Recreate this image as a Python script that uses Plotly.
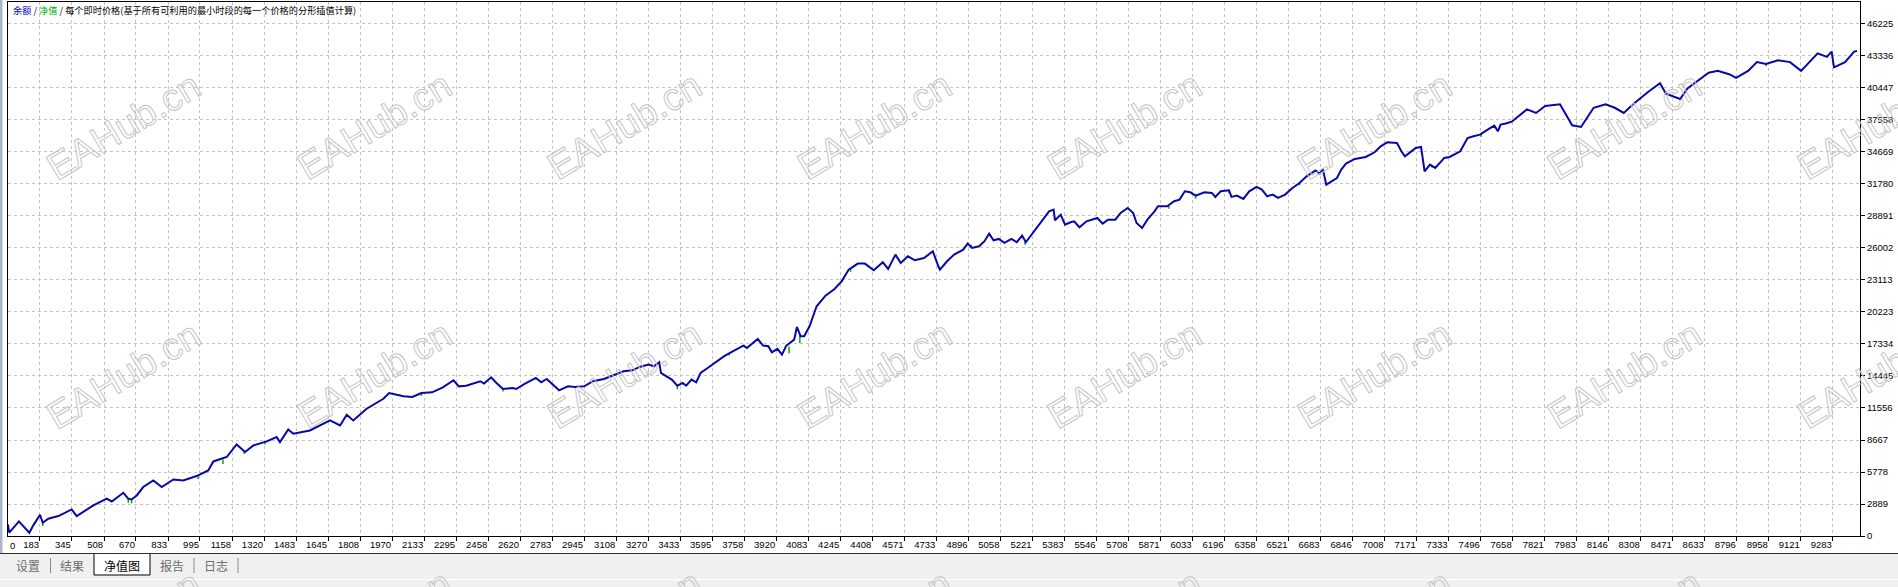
import plotly.graph_objects as go

# balance curve (trade number, balance)
trade_idx = [
    20, 27, 76, 107, 129, 149, 183, 197, 225, 276, 344, 369, 454, 522, 547, 606,
    631, 648, 674, 707, 758, 801, 860, 910, 978, 1037, 1063, 1131, 1181, 1224,
    1266, 1334, 1384, 1401, 1443, 1469, 1553, 1655, 1706, 1740, 1773, 1841, 1926,
    1955, 2028, 2073, 2119, 2173, 2228, 2282, 2309, 2346, 2391, 2418, 2437, 2473,
    2500, 2533, 2582, 2600, 2645, 2700, 2727, 2755, 2818, 2863, 2900, 2945, 2990,
    3045, 3081, 3145, 3190, 3226, 3272, 3299, 3326, 3335, 3363, 3390, 3418, 3445,
    3463, 3490, 3514, 3536, 3572, 3608, 3654, 3690, 3753, 3771, 3826, 3853, 3880,
    3898, 3926, 3949, 3971, 3989, 4011, 4025, 4044, 4062, 4089, 4125, 4170, 4216,
    4252, 4288, 4334, 4370, 4415, 4461, 4488, 4525, 4552, 4588, 4624, 4670, 4715,
    4743,
    4751, 4787, 4823, 4869, 4892, 4914, 4950, 4977, 5001, 5023, 5050, 5078, 5114,
    5141, 5168, 5187, 5223, 5268, 5305, 5328, 5335, 5364, 5386, 5414, 5432, 5459,
    5495, 5550, 5577, 5604, 5641, 5668, 5704, 5732, 5749, 5777, 5804, 5840, 5858,
    5904, 5940, 5967, 5994, 6022, 6049, 6094, 6131, 6149, 6176, 6218, 6231, 6258,
    6291, 6321, 6358, 6385, 6412, 6440, 6467, 6503, 6540, 6576, 6612, 6657, 6679,
    6694, 6712, 6739, 6766, 6788, 6812, 6857, 6912, 6957, 6988, 7021, 7071, 7093,
    7111, 7129, 7166, 7193, 7206, 7211, 7238, 7265, 7311, 7338, 7392, 7429, 7459,
    7492, 7537, 7565, 7583, 7597,
    7623, 7653, 7730, 7777, 7823, 7898, 7929, 7960, 8005, 8069, 8130, 8176, 8222,
    8269, 8345, 8406, 8436, 8508, 8545, 8653, 8699, 8760, 8792, 8853, 8898, 8944,
    9005, 9066, 9122, 9206, 9253, 9277, 9289, 9345, 9391, 9406,
]
balance = [
    1050, 300, 1320, 750, 300, 960, 1920, 1200, 1560, 1800, 2400, 1800, 2760, 3370, 3120, 3900,
    3370, 3300, 3660, 4420, 5020, 4420, 5100, 5020, 5410, 5920, 6730, 7130, 8260, 7580,
    8170, 8540, 8930, 8480, 9620, 9230, 9530, 10430, 9980, 10940, 10430, 11490, 12390,
    12910, 12610, 12550, 12910, 12970, 13420, 14060, 13510, 13570, 13820, 13970, 13760, 14330,
    13820, 13270, 13360, 13270, 13760, 14270, 13880, 14180, 13150, 13510, 13450, 13510, 13970,
    14180, 14420, 14870, 14960, 15260, 15470, 15320, 15680, 14720, 14420, 14120, 13570, 13820,
    13570, 14120, 13880, 14720, 15170, 15620, 16220, 16580, 17190, 16980, 17790, 17190, 17130,
    16580, 16890, 16370, 17190, 17430, 17730, 18870, 18030, 18030, 18930, 20740, 21700, 22300,
    22990, 24050, 24590, 24590, 23990, 24710, 24110, 25400, 24650, 25250, 24890, 25100, 25700,
    24350,
    24050, 24800, 25400, 25850, 26400, 26000, 26150, 26610, 27300, 26700, 26820, 26460, 26820,
    26520, 27120, 26520, 27360, 28410, 29310, 29460, 28500, 29010, 28110, 28320, 28410, 27870,
    28410, 28710, 28200, 28560, 28560, 29160, 29610, 29160, 28260, 27810, 28560, 29310, 29770,
    29770, 30220, 30370, 31120, 31030, 30730, 31030, 30970, 30610, 31120, 31210, 30610, 30730,
    30430, 31120, 31510, 31270, 30670, 30820, 30520, 30820, 31420, 31870, 32470, 33000, 32710,
    33140, 31720, 32020, 32320, 33080, 33620, 34040, 34220, 34640, 35180, 35540, 35480, 34730,
    34280, 34520, 35030, 35120, 33530, 32920, 33530, 33230, 34130, 34220, 34730, 35930, 36080,
    36230, 36750, 37050, 36540, 37140,
    37240, 37400, 38510, 38190, 38820, 38980, 38030, 37080, 36930, 38660, 38980, 38660, 38190,
    38980, 40090, 40880, 39930, 39450, 40400, 41830, 41990, 41670, 41360, 41990, 42780, 42620,
    42940, 42780, 41990, 43570, 43250, 43730, 42310, 42780, 43730, 43790,
]

# short equity dips (green) showing under the balance line
eq_dip_idx = [197, 631, 648, 985, 1112, 1219, 1325, 2119, 2533, 3418, 3681, 3985, 4040,
              4297, 4910, 5183, 5913, 6049, 6218, 6576, 7249, 7498, 8944]
eq_dip_from = [1200, 3370, 3300, 5400, 6900, 7600, 8500, 12900, 13270, 13570, 16500, 17100,
               18100, 24100, 26300, 26600, 29800, 30800, 31200, 31900, 33500, 36300, 42600]
eq_dip_to = [900, 3000, 2950, 5150, 6500, 7400, 8250, 12650, 13050, 13250, 16300, 16500,
             17400, 23850, 26050, 26300, 29550, 30450, 30950, 31650, 33250, 36050, 42400]

x_labels = [
    "0", "183", "345", "508", "670", "833", "995", "1158", "1320", "1483", "1645", "1808",
    "1970", "2133", "2295", "2458", "2620", "2783", "2945", "3108", "3270", "3433", "3595",
    "3758", "3920", "4083", "4245", "4408", "4571", "4733", "4896", "5058", "5221", "5383",
    "5546", "5708", "5871", "6033", "6196", "6358", "6521", "6683", "6846", "7008", "7171",
    "7333", "7496", "7658", "7821", "7983", "8146", "8308", "8471", "8633", "8796", "8958",
    "9121", "9283",
]
y_ticks = [0, 2889, 5778, 8667, 11556, 14445, 17334, 20223, 23113, 26002, 28891,
           31780, 34669, 37558, 40447, 43336, 46225]

tabs = ["设置", "结果", "净值图", "报告", "日志"]
watermark = "EAHub.cn"

W, H = 1898, 587
L, R, T, B = 8, 1860, 2, 536


def px_x(p):
    return (p - L) / (R - L)


def px_y(p):
    return (B - p) / (B - T)


def note(text, x, y, font, anchor="center", **kw):
    return dict(text=text, x=px_x(x), y=px_y(y), xref="paper", yref="paper",
                xanchor=anchor, yanchor="middle", showarrow=False, font=font, **kw)


eq_x, eq_y = [], []
for i, a, b in zip(eq_dip_idx, eq_dip_from, eq_dip_to):
    eq_x += [i, i, None]
    eq_y += [a, b, None]

fig = go.Figure()
fig.add_trace(go.Scatter(x=eq_x, y=eq_y, mode="lines",
                         line=dict(color="#00b000", width=1.5), hoverinfo="skip"))
fig.add_trace(go.Scatter(x=trade_idx, y=balance, mode="lines",
                         line=dict(color="#0808a8", width=2)))

tick_font = dict(family="Liberation Sans, Arial", size=9.5, color="black")
grid = dict(showgrid=True, gridcolor="#c4c4c4", griddash="3px,3px", gridwidth=1,
            zeroline=False, showline=True, linecolor="black", linewidth=1, mirror=True,
            ticks="outside", ticklen=4, tickcolor="black", tickfont=tick_font)

fig.update_layout(
    width=W, height=H,
    margin=dict(l=L, r=W - R, t=T, b=H - B),
    paper_bgcolor="white", plot_bgcolor="white",
    showlegend=False,
    xaxis=dict(range=[20.6, 9421], tickvals=[int(v) for v in x_labels[1:]],
               ticktext=x_labels[1:], ticklabelposition="outside left", **grid),
    yaxis=dict(range=[0, 48208], side="right", tickvals=y_ticks,
               ticktext=[str(v) for v in y_ticks], **grid),
)

ann = []
# title line inside the plot
ann.append(note('<span style="color:#0000c8">余额</span> / <span style="color:#00b000">净值</span>'
                ' / 每个即时价格(基于所有可利用的最小时段的每一个价格的分形插值计算)',
                11, 10, dict(family="Noto Sans CJK SC", size=9.2, color="black"), anchor="left"))
# first x label sits right of the axis start
ann.append(note(x_labels[0], 12, 545, tick_font))

# tab bar
shapes = [
    dict(type="rect", xref="paper", yref="paper", x0=px_x(0), x1=px_x(W),
         y0=px_y(553.5), y1=px_y(H), fillcolor="#f0f0f0", line_width=0),
    dict(type="line", xref="paper", yref="paper", x0=px_x(0), x1=px_x(W),
         y0=px_y(579.5), y1=px_y(579.5), line=dict(color="white", width=1)),
    dict(type="rect", xref="paper", yref="paper", x0=px_x(94), x1=px_x(150),
         y0=px_y(553.5), y1=px_y(575), fillcolor="white", line=dict(color="black", width=1)),
    dict(type="line", xref="paper", yref="paper", x0=px_x(0), x1=px_x(W),
         y0=px_y(553.5), y1=px_y(553.5), line=dict(color="#303030", width=1)),
    dict(type="rect", xref="paper", yref="paper", x0=px_x(0), x1=px_x(2.5),
         y0=px_y(0), y1=px_y(553), fillcolor="#a8b8cc", line_width=0),
]
for sx in [50.5, 194, 238]:
    shapes.append(dict(type="line", xref="paper", yref="paper", x0=px_x(sx), x1=px_x(sx),
                       y0=px_y(558), y1=px_y(573), line=dict(color="#8a8a8a", width=1)))

tab_x = [28, 72, 122, 172, 216]
for name, tx in zip(tabs, tab_x):
    ann.append(note(name, tx, 565,
                    dict(family="Noto Sans CJK SC", size=12,
                         color="black" if name == "净值图" else "#6e6e6e")))

# hollow watermark tiled over the whole picture
wm_font = dict(family="Liberation Sans, Arial", size=38, color="#c6c6c6")
for r in range(3):
    for c in range(8):
        ann.append(note('<span style="fill:none;stroke:#c6c6c6;stroke-width:1px">%s</span>' % watermark,
                        124 + 250 * c, 126 + 249 * r, wm_font, textangle=-31))

fig.update_layout(annotations=ann, shapes=shapes)

fig.write_html("out.html", config={"displayModeBar": False},
               post_script="document.body.style.margin='0';document.body.style.overflow='hidden';")
